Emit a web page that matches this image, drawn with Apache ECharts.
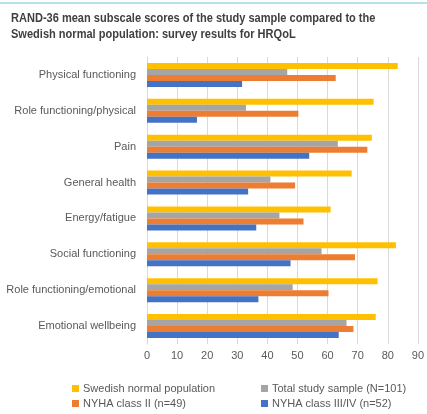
<!DOCTYPE html>
<html>
<head>
<meta charset="utf-8">
<script src="https://cdn.jsdelivr.net/npm/echarts@6/dist/echarts.min.js"></script>
<style>
  html, body { margin: 0; padding: 0; background: #ffffff; }
  #chart { width: 427px; height: 414px; }
</style>
</head>
<body>
<div id="chart"></div>
<script>
// RAND-36 subscales, top to bottom
const categories = [
  'Physical functioning',
  'Role functioning/physical',
  'Pain',
  'General health',
  'Energy/fatigue',
  'Social functioning',
  'Role functioning/emotional',
  'Emotional wellbeing'
];

const seriesNames = [
  'Swedish normal population',
  'Total study sample (N=101)',
  'NYHA class II (n=49)',
  'NYHA class III/IV (n=52)'
];

const swedishNorm   = [83.3, 75.3, 74.7, 68.0, 61.0, 82.7, 76.6, 76.0];
const totalSample   = [46.6, 32.9, 63.4, 41.0, 44.0, 58.0, 48.4, 66.3];
const nyhaClassII   = [62.7, 50.3, 73.2, 49.2, 52.0, 69.1, 60.3, 68.6];
const nyhaClassIIIV = [31.6, 16.6, 53.9, 33.6, 36.3, 47.7, 37.0, 63.7];

const xTicks = { min: 0, max: 90, interval: 10 };

const titleLines = [
  'RAND-36 mean subscale scores of the study sample compared to the',
  'Swedish normal population: survey results for HRQoL'
];

const colors = ['#FFC000', '#A5A5A5', '#ED7D31', '#4472C4'];
const values = [swedishNorm, totalSample, nyhaClassII, nyhaClassIIIV];

const textFont = '"Liberation Sans", Arial, sans-serif';

// legend entries laid out in two columns, two rows
const legendSlots = [
  { left: 72, top: 383 },
  { left: 261, top: 383 },
  { left: 72, top: 398 },
  { left: 261, top: 398 }
];

const chart = echarts.init(document.getElementById('chart'), null, { renderer: 'canvas' });

chart.setOption({
  backgroundColor: '#ffffff',
  animation: false,
  graphic: [
    {
      type: 'rect',
      left: 0, top: 2,
      shape: { width: 427, height: 2 },
      style: { fill: '#b7e1ea' }
    },
    {
      type: 'text',
      x: 11,
      y: 10,
      scaleX: 0.92,
      style: {
        text: titleLines.join('\n'),
        font: 'bold 12px ' + textFont,
        lineHeight: 16.5,
        fill: '#404040'
      }
    }
  ],
  legend: seriesNames.map((name, i) => ({
    data: [name],
    left: legendSlots[i].left,
    top: legendSlots[i].top,
    itemWidth: 7,
    itemHeight: 7,
    icon: 'rect',
    padding: 0,
    textStyle: { fontFamily: textFont, fontSize: 11, color: '#595959', padding: [0, 0, 0, -1] }
  })),
  grid: {
    left: 147,
    right: 6,
    top: 57,
    bottom: 70,
    containLabel: false
  },
  xAxis: {
    type: 'value',
    min: xTicks.min,
    max: xTicks.max,
    interval: xTicks.interval,
    axisLine: { show: false },
    axisTick: { show: false },
    splitLine: { show: true, lineStyle: { color: '#d9d9d9', width: 1 } },
    axisLabel: {
      margin: 6,
      fontFamily: textFont,
      fontSize: 11,
      color: '#595959'
    }
  },
  yAxis: {
    type: 'category',
    data: categories,
    inverse: true,
    axisLine: { show: true, lineStyle: { color: '#d9d9d9' } },
    axisTick: { show: false },
    axisLabel: {
      margin: 11,
      fontFamily: textFont,
      fontSize: 11,
      color: '#595959'
    }
  },
  series: seriesNames.map((name, i) => ({
    name,
    type: 'bar',
    data: values[i],
    barWidth: 6,
    barGap: '0%',
    itemStyle: { color: colors[i] }
  }))
});
</script>
</body>
</html>
